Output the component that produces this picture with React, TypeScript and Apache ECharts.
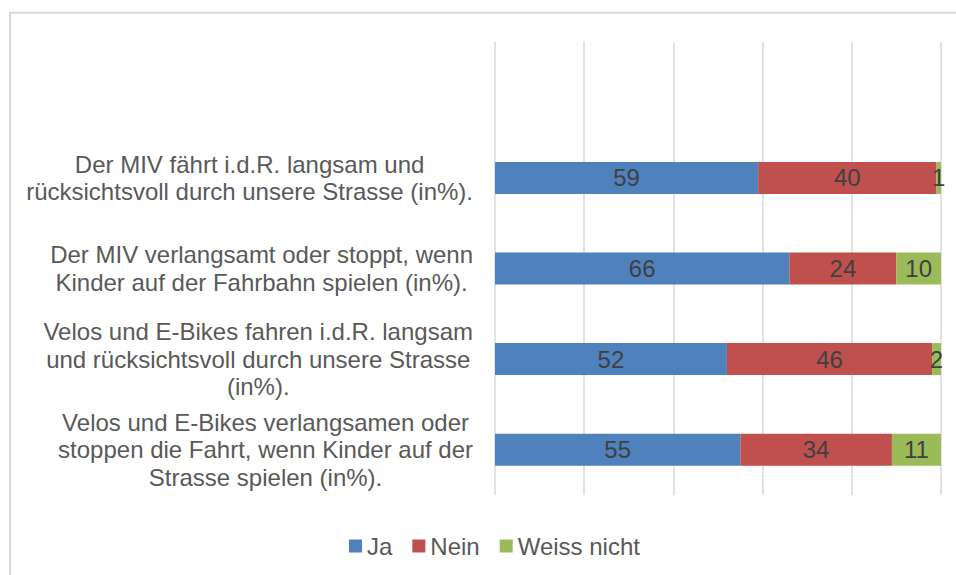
import React, { useEffect, useRef } from "react";
import * as echarts from "echarts";

const categories: string[] = [
  "",
  "Der MIV fährt i.d.R. langsam und\nrücksichtsvoll durch unsere Strasse (in%).",
  "Der MIV verlangsamt oder stoppt, wenn\nKinder auf der Fahrbahn spielen (in%).",
  "Velos und E-Bikes fahren i.d.R. langsam\nund rücksichtsvoll durch unsere Strasse\n(in%).",
  "Velos und E-Bikes verlangsamen oder\nstoppen die Fahrt, wenn Kinder auf der\nStrasse spielen (in%).",
];

const seriesNames = ["Ja", "Nein", "Weiss nicht"];
const jaValues: (number | string)[] = ["-", 59, 66, 52, 55];
const neinValues: (number | string)[] = ["-", 40, 24, 46, 34];
const weissNichtValues: (number | string)[] = ["-", 1, 10, 2, 11];
const xTicks = { min: 0, max: 100, interval: 20 };

const colors = ["#4F81BD", "#C0504D", "#9BBB59"];
const FONT = '"Liberation Sans", Arial, sans-serif';

export default function App() {
  const ref = useRef<HTMLDivElement>(null);

  useEffect(() => {
    if (!ref.current) return;
    const chart = echarts.init(ref.current, undefined, { renderer: "svg" });
    const values = [jaValues, neinValues, weissNichtValues];

    chart.setOption({
      animation: false,
      backgroundColor: "#ffffff",
      textStyle: { fontFamily: FONT },
      graphic: [
        {
          type: "rect",
          shape: { x: 10, y: 12.8, width: 1000, height: 700 },
          style: { fill: "none", stroke: "#d9d9d9", lineWidth: 2 },
          silent: true,
          z: -10,
        },
      ],
      legend: {
        data: seriesNames,
        left: 344,
        top: 529,
        itemWidth: 13,
        itemHeight: 13,
        itemGap: 20,
        icon: "rect",
        textStyle: { fontFamily: FONT, fontSize: 24, color: "#595959" },
      },
      grid: { left: 495, right: 15, top: 42, bottom: 80, containLabel: false },
      xAxis: {
        type: "value",
        min: xTicks.min,
        max: xTicks.max,
        interval: xTicks.interval,
        axisLabel: { show: false },
        axisLine: { show: false },
        axisTick: { show: false },
        splitLine: { show: true, lineStyle: { color: "#d9d9d9", width: 1.5 } },
      },
      yAxis: {
        type: "category",
        inverse: true,
        data: categories,
        axisLine: { show: false },
        axisTick: { show: false },
        axisLabel: {
          margin: 22,
          formatter: (v: string) =>
            v
              ? v
                  .split("\n")
                  .map((l) => `{c|${l}}`)
                  .join("\n")
              : "",
          rich: {
            c: {
              fontFamily: FONT,
              fontSize: 24,
              lineHeight: 27.6,
              color: "#595959",
              align: "center",
            },
          },
        },
      },
      series: seriesNames.map((name, i) => ({
        name,
        type: "bar",
        stack: "total",
        barWidth: 32,
        data: values[i],
        itemStyle: { color: colors[i] },
        label: {
          show: true,
          position: "inside",
          fontFamily: FONT,
          fontSize: 24,
          color: "#404040",
        },
      })),
    });

    return () => chart.dispose();
  }, []);

  return (
    <div
      ref={ref}
      style={{ position: "fixed", left: 0, top: 0, width: 956, height: 575 }}
    />
  );
}
